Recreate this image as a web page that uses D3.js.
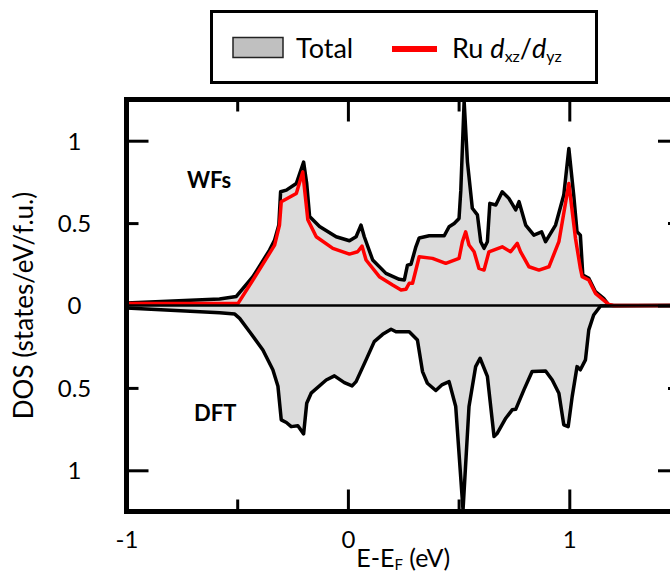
<!DOCTYPE html>
<html>
<head>
<meta charset="utf-8">
<script src="https://cdn.jsdelivr.net/npm/d3@7"></script>
<style>
  html, body { margin: 0; padding: 0; background: #fff; }
  svg { display: block; }
  text { font-family: Lato, "Open Sans", sans-serif; fill: #000; }
</style>
</head>
<body>
<svg id="chart" width="670" height="574"></svg>
<script>
// ---------------- data ----------------
// Wannier-function (WFs) total DOS
const wfEnergy = [-1, -0.58, -0.504, -0.429, -0.354, -0.331, -0.312, -0.304, -0.278, -0.233, -0.2, -0.186, -0.173, -0.128, -0.053, 0.007, 0.037, 0.059, 0.074, 0.112, 0.172, 0.232, 0.255, 0.269, 0.285, 0.307, 0.322, 0.367, 0.435, 0.457, 0.48, 0.502, 0.51, 0.525, 0.54, 0.562, 0.585, 0.6, 0.615, 0.63, 0.641, 0.668, 0.697, 0.727, 0.758, 0.773, 0.803, 0.84, 0.875, 0.893, 0.938, 0.975, 0.998, 1.02, 1.035, 1.05, 1.061, 1.088, 1.118, 1.155, 1.178, 1.2, 1.5];
const wfTotal  = [0.015, 0.04, 0.055, 0.175, 0.336, 0.397, 0.488, 0.69, 0.70, 0.74, 0.87, 0.74, 0.54, 0.48, 0.417, 0.393, 0.417, 0.488, 0.417, 0.276, 0.195, 0.159, 0.155, 0.245, 0.25, 0.356, 0.41, 0.423, 0.423, 0.478, 0.498, 0.528, 0.70, 1.24, 0.87, 0.59, 0.55, 0.387, 0.347, 0.387, 0.62, 0.61, 0.69, 0.65, 0.58, 0.63, 0.488, 0.427, 0.447, 0.387, 0.488, 0.67, 0.953, 0.67, 0.447, 0.427, 0.185, 0.165, 0.084, 0.044, 0.003, 0, 0];

// Ru dxz/dyz projected DOS (WFs)
const ruEnergy = [-1, -0.504, -0.496, -0.429, -0.354, -0.331, -0.309, -0.301, -0.233, -0.204, -0.181, -0.143, -0.068, 0.007, 0.044, 0.064, 0.082, 0.142, 0.202, 0.24, 0.262, 0.277, 0.292, 0.322, 0.382, 0.442, 0.502, 0.517, 0.532, 0.547, 0.57, 0.592, 0.615, 0.637, 0.697, 0.735, 0.765, 0.78, 0.818, 0.863, 0.908, 0.953, 0.998, 1.028, 1.05, 1.058, 1.088, 1.118, 1.178, 1.2, 1.5];
const ruDxzDyz = [0.012, 0.012, 0.013, 0.155, 0.316, 0.366, 0.488, 0.63, 0.68, 0.81, 0.52, 0.417, 0.347, 0.312, 0.326, 0.36, 0.276, 0.175, 0.124, 0.094, 0.098, 0.135, 0.135, 0.296, 0.286, 0.256, 0.286, 0.387, 0.447, 0.367, 0.326, 0.225, 0.215, 0.326, 0.356, 0.326, 0.377, 0.326, 0.235, 0.215, 0.235, 0.387, 0.74, 0.407, 0.225, 0.175, 0.155, 0.074, 0.007, 0, 0];

// DFT total DOS (drawn mirrored, downward)
const dftEnergy = [-1, -0.579, -0.511, -0.489, -0.444, -0.384, -0.339, -0.316, -0.301, -0.278, -0.256, -0.226, -0.2, -0.186, -0.166, -0.098, -0.061, -0.016, 0.019, 0.037, 0.082, 0.119, 0.157, 0.195, 0.217, 0.277, 0.314, 0.337, 0.359, 0.397, 0.424, 0.457, 0.487, 0.52, 0.547, 0.577, 0.597, 0.63, 0.66, 0.675, 0.713, 0.742, 0.758, 0.795, 0.832, 0.893, 0.923, 0.953, 0.975, 0.995, 1.013, 1.035, 1.05, 1.073, 1.088, 1.11, 1.141, 1.5];
const dftTotal  = [0.015, 0.044, 0.052, 0.078, 0.159, 0.27, 0.39, 0.49, 0.694, 0.71, 0.735, 0.73, 0.779, 0.593, 0.532, 0.452, 0.427, 0.468, 0.488, 0.462, 0.33, 0.219, 0.175, 0.144, 0.159, 0.159, 0.209, 0.401, 0.472, 0.516, 0.482, 0.462, 0.613, 1.24, 0.613, 0.371, 0.32, 0.43, 0.795, 0.775, 0.684, 0.633, 0.63, 0.512, 0.401, 0.397, 0.452, 0.532, 0.724, 0.735, 0.553, 0.371, 0.39, 0.33, 0.148, 0.058, 0.003, 0];

// ticks
const xMajorTicks = [-1, 0, 1];
const xMinorTicks = [-0.5, 0.5];
const yMajorTicks = [-1, 0, 1];
const yMinorTicks = [-0.5, 0.5];
const xDomain = [-1, 1.5];
const yDomain = [-1.25, 1.25];

// ---------------- drawing ----------------
const svg = d3.select("#chart");
const L = 126.5, R = 680, T = 99.5, B = 511.5;
const x = d3.scaleLinear().domain(xDomain).range([L, R]);
const y = d3.scaleLinear().domain(yDomain).range([B, T]);

const zip = (a, b, sign) => a.map((e, i) => [e, sign * b[i]]);
const wfData  = zip(wfEnergy, wfTotal, 1);
const ruData  = zip(ruEnergy, ruDxzDyz, 1);
const dftData = zip(dftEnergy, dftTotal, -1);

svg.append("defs").append("clipPath").attr("id", "clip")
  .append("rect").attr("x", L).attr("y", T).attr("width", R - L).attr("height", B - T);

const plot = svg.append("g").attr("clip-path", "url(#clip)");
const area = d3.area().x(d => x(d[0])).y0(y(0)).y1(d => y(d[1]));
const line = d3.line().x(d => x(d[0])).y(d => y(d[1]));

const fillCol = "#dcdcdc";
plot.append("path").datum(dftData).attr("d", area).attr("fill", fillCol);
plot.append("path").datum(wfData).attr("d", area).attr("fill", fillCol);
plot.append("path").datum(dftData).attr("d", line)
  .attr("fill", "none").attr("stroke", "#000").attr("stroke-width", 3.5).attr("stroke-linejoin", "round");
plot.append("path").datum(wfData).attr("d", line)
  .attr("fill", "none").attr("stroke", "#000").attr("stroke-width", 3.5).attr("stroke-linejoin", "round");
plot.append("path").datum(ruData).attr("d", line)
  .attr("fill", "none").attr("stroke", "#ff0000").attr("stroke-width", 3.5).attr("stroke-linejoin", "round");
// zero line
plot.append("line").attr("x1", L).attr("x2", R).attr("y1", y(0)).attr("y2", y(0))
  .attr("stroke", "#000").attr("stroke-width", 2.5);

// axes (ticks inward)
function styleAxis(g) {
  g.select(".domain").remove();
  g.selectAll(".tick line").attr("stroke", "#000").attr("stroke-width", 3);
}
svg.append("g").attr("transform", `translate(0,${B})`)
  .call(d3.axisBottom(x).tickValues(xMajorTicks).tickSizeInner(-22).tickSizeOuter(0).tickPadding(0).tickFormat(d => String(d)))
  .call(styleAxis)
  .call(g => g.selectAll("text").attr("y", 0).attr("dy", 0).attr("transform", "translate(0,36)")
     .attr("font-size", 24).attr("font-family", "Lato, sans-serif"));
svg.append("g").attr("transform", `translate(0,${B})`)
  .call(d3.axisBottom(x).tickValues(xMinorTicks).tickSizeInner(-12).tickSizeOuter(0).tickFormat(""))
  .call(styleAxis);
svg.append("g").attr("transform", `translate(0,${T})`)
  .call(d3.axisTop(x).tickValues(xMajorTicks).tickSizeInner(-22).tickSizeOuter(0).tickFormat(""))
  .call(styleAxis);
svg.append("g").attr("transform", `translate(0,${T})`)
  .call(d3.axisTop(x).tickValues(xMinorTicks).tickSizeInner(-12).tickSizeOuter(0).tickFormat(""))
  .call(styleAxis);

const yFmt = d => String(Math.abs(d));
svg.append("g").attr("transform", `translate(${L},0)`)
  .call(d3.axisLeft(y).tickValues(yMajorTicks.concat(yMinorTicks)).tickSizeInner(0).tickSizeOuter(0).tickFormat(yFmt))
  .call(styleAxis)
  .call(g => g.selectAll("text").attr("x", 74.5 - L).attr("dy", "0.35em")
     .attr("text-anchor", "middle").attr("font-size", 24).attr("font-family", "Lato, sans-serif"));
svg.append("g").attr("transform", `translate(${L},0)`)
  .call(d3.axisLeft(y).tickValues([-1, 1]).tickSizeInner(-22).tickSizeOuter(0).tickFormat(""))
  .call(styleAxis);
svg.append("g").attr("transform", `translate(${L},0)`)
  .call(d3.axisLeft(y).tickValues(yMinorTicks).tickSizeInner(-12).tickSizeOuter(0).tickFormat(""))
  .call(styleAxis);
svg.append("g").attr("transform", `translate(${R},0)`)
  .call(d3.axisRight(y).tickValues(yMajorTicks).tickSizeInner(-22).tickSizeOuter(0).tickFormat(""))
  .call(styleAxis);
svg.append("g").attr("transform", `translate(${R},0)`)
  .call(d3.axisRight(y).tickValues(yMinorTicks).tickSizeInner(-12).tickSizeOuter(0).tickFormat(""))
  .call(styleAxis);

// frame
svg.append("rect").attr("x", L).attr("y", T).attr("width", R - L).attr("height", B - T)
  .attr("fill", "none").attr("stroke", "#000").attr("stroke-width", 5);

// axis titles
svg.append("text").attr("transform", `translate(33,${y(0)}) rotate(-90)`)
  .attr("text-anchor", "middle").attr("font-size", 26).text("DOS (states/eV/f.u.)");
const xt = svg.append("text").attr("x", (L + R) / 2).attr("y", 567).attr("text-anchor", "middle").attr("font-size", 25);
xt.append("tspan").text("E-E");
xt.append("tspan").attr("font-size", 15).attr("dy", 3).text("F");
xt.append("tspan").attr("dy", -3).text(" (eV)");

// panel labels
svg.append("text").attr("x", 187).attr("y", 188).attr("font-size", 22).attr("font-weight", "bold").text("WFs");
svg.append("text").attr("x", 194).attr("y", 421).attr("font-size", 22).attr("font-weight", "bold").text("DFT");

// legend
const lg = svg.append("g");
lg.append("rect").attr("x", 211.5).attr("y", 11.5).attr("width", 385).attr("height", 71)
  .attr("fill", "#fff").attr("stroke", "#000").attr("stroke-width", 3);
lg.append("rect").attr("x", 233).attr("y", 37.5).attr("width", 50).attr("height", 20)
  .attr("fill", "#c0c0c0").attr("stroke", "#222").attr("stroke-width", 1.5);
lg.append("text").attr("x", 296).attr("y", 57.5).attr("font-size", 27).text("Total");
lg.append("line").attr("x1", 392).attr("x2", 437).attr("y1", 49).attr("y2", 49)
  .attr("stroke", "#ff0000").attr("stroke-width", 6);
const rt = lg.append("text").attr("x", 452).attr("y", 57.5).attr("font-size", 27);
rt.append("tspan").text("Ru ");
rt.append("tspan").attr("font-style", "italic").text("d");
rt.append("tspan").attr("font-size", 16).attr("dy", 4).text("xz");
rt.append("tspan").attr("dy", -4).text("/");
rt.append("tspan").attr("font-style", "italic").text("d");
rt.append("tspan").attr("font-size", 16).attr("dy", 4).text("yz");
</script>
</body>
</html>
